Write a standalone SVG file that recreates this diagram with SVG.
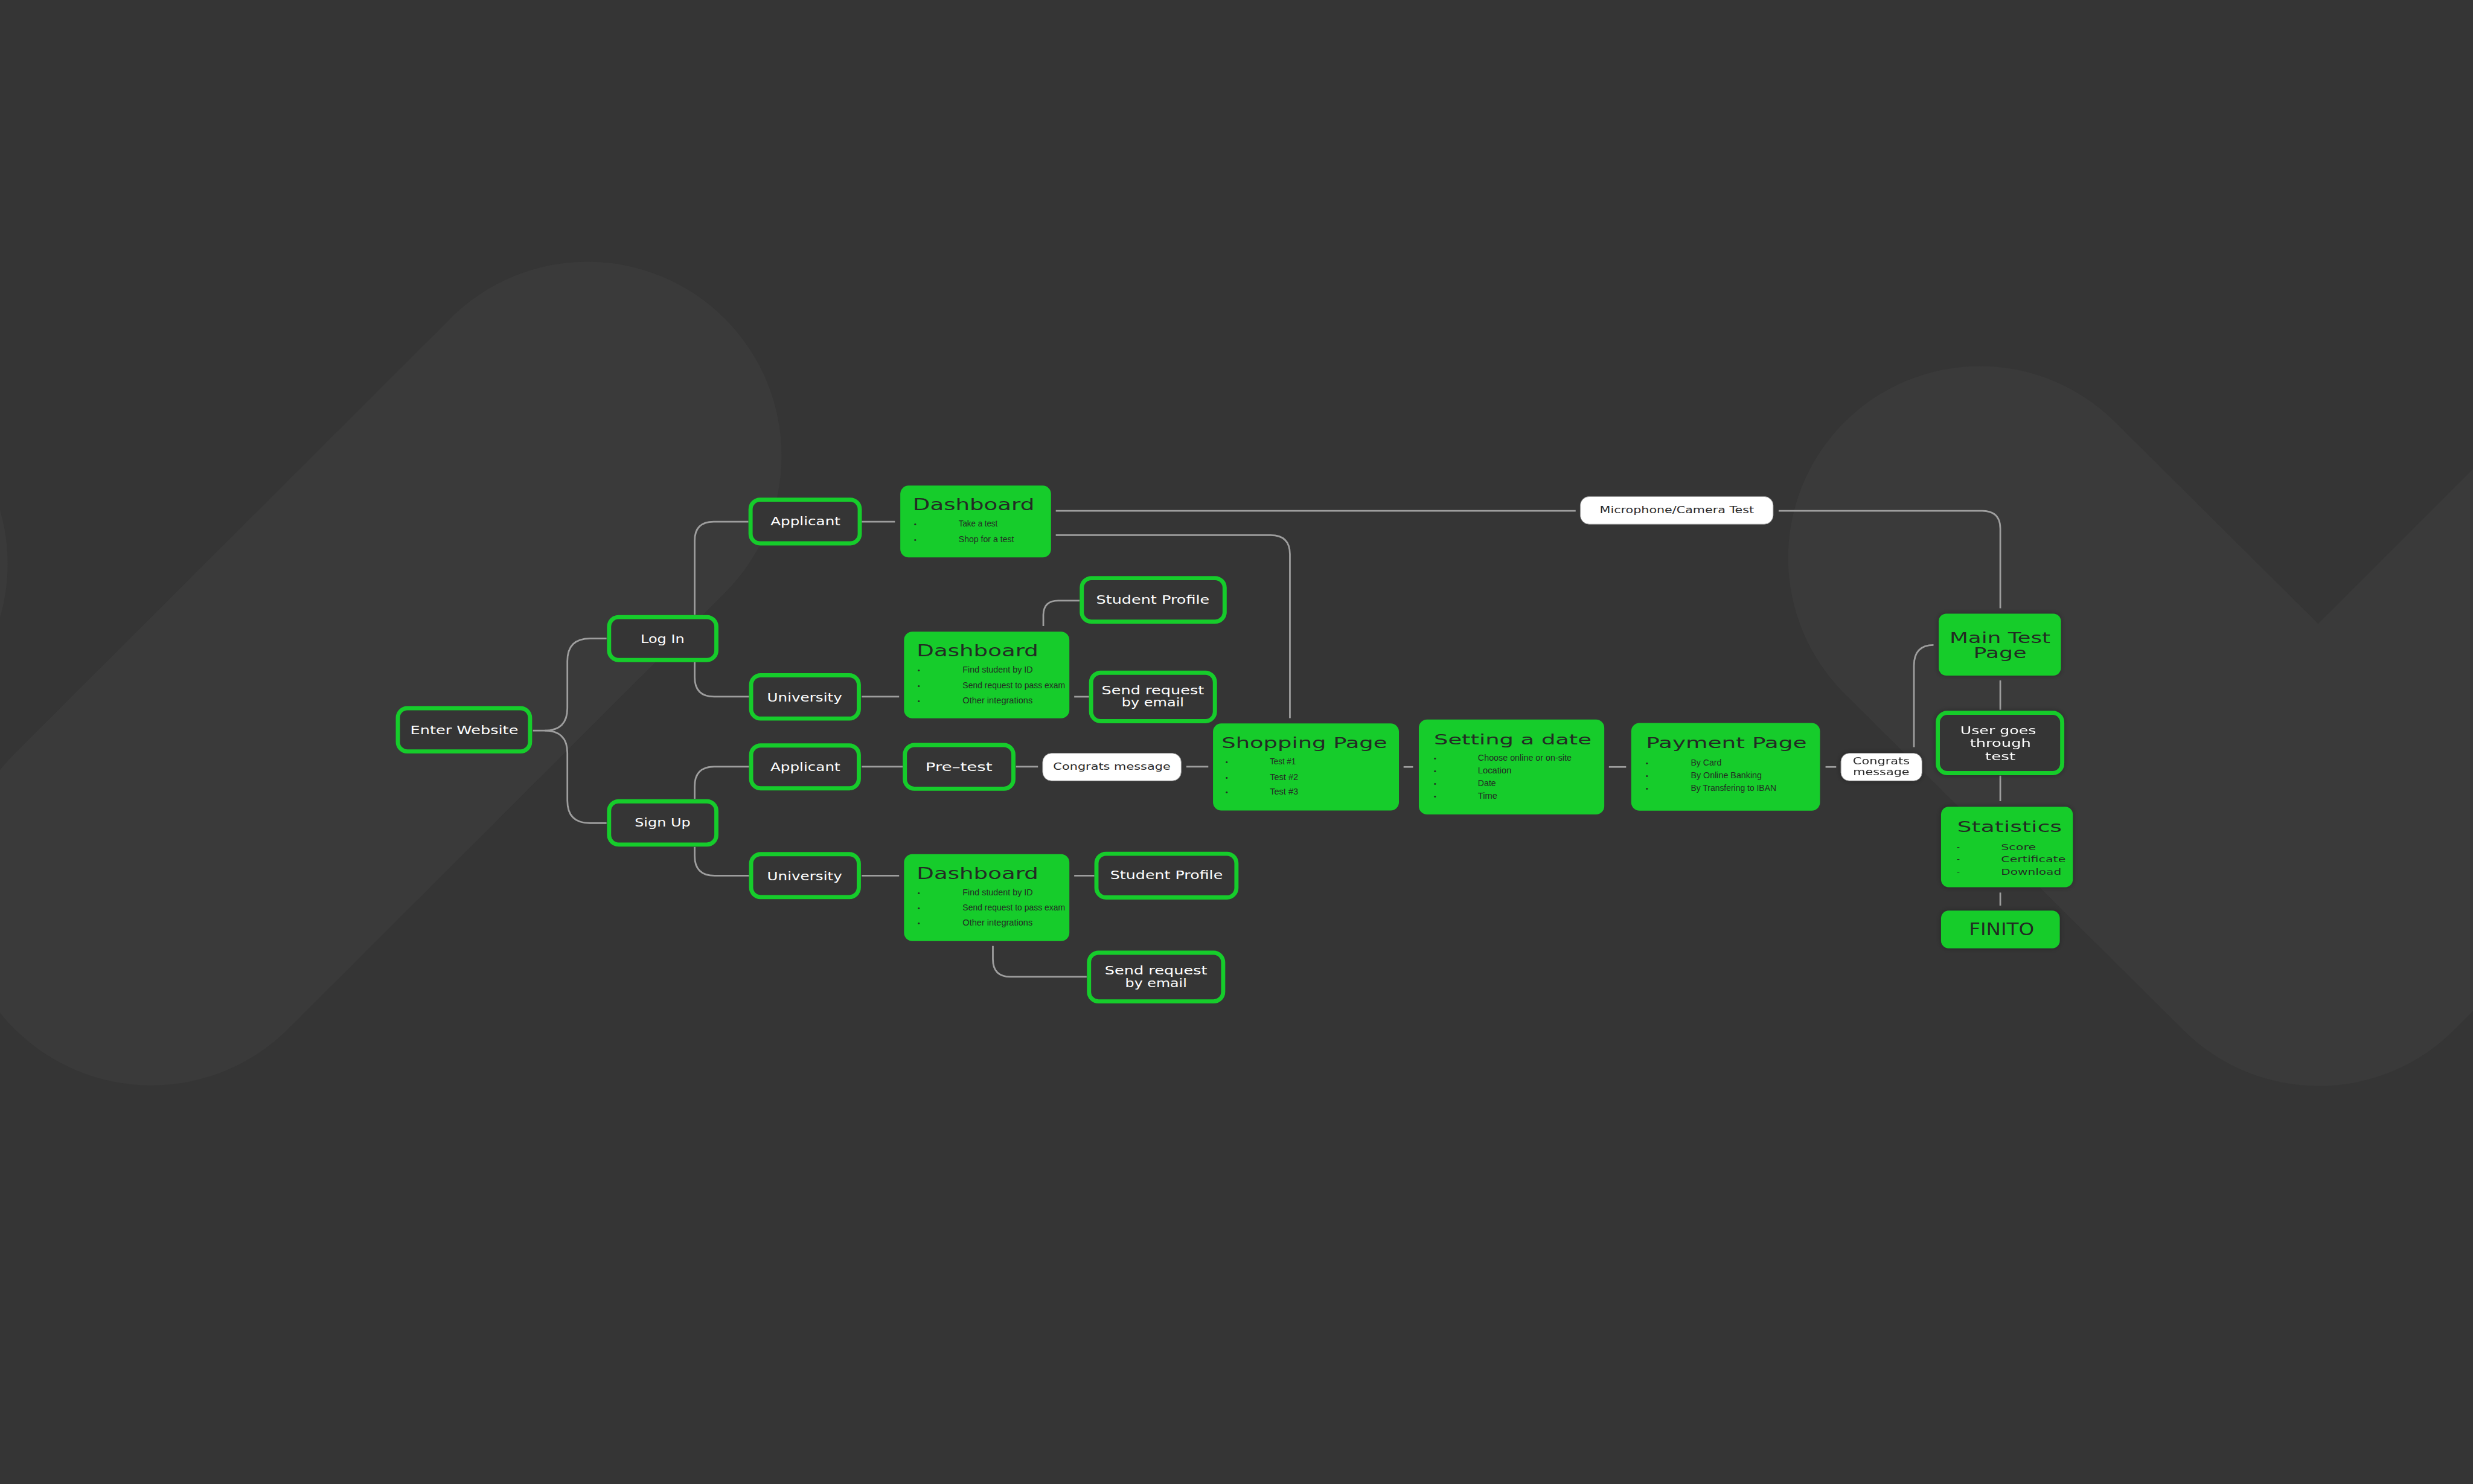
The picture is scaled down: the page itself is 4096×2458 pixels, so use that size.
<svg xmlns="http://www.w3.org/2000/svg" width="4096" height="2458" viewBox="0 0 4096 2458">
<defs>
<style>
.bgs{fill:none;stroke:#3a3a3a;stroke-linecap:round;stroke-linejoin:round}
.dn rect{fill:#353535;stroke:#16cc2b;stroke-width:7}
.gn rect{fill:#16cc2b}
.pl rect{fill:#ffffff;stroke:#9a9a9a;stroke-width:1}
.conn path{fill:none;stroke:#9e9e9e;stroke-width:2.8}
.lbl{font-family:"DejaVu Sans","Liberation Sans",sans-serif;fill:#ffffff;text-anchor:middle}
.ttl{font-family:"DejaVu Sans","Liberation Sans",sans-serif;fill:#232b24}
.ttc{font-family:"DejaVu Sans","Liberation Sans",sans-serif;fill:#232b24;text-anchor:middle}
.plt{font-family:"DejaVu Sans","Liberation Sans",sans-serif;fill:#2a2a2a;text-anchor:middle;font-size:16px}
.bul{font-family:"Liberation Sans",Arial,sans-serif;fill:#232b24;font-size:14px}
.dot{font-family:"Liberation Sans",Arial,sans-serif;fill:#232b24;font-size:12px}
.sb{font-family:"DejaVu Sans","Liberation Sans",sans-serif;fill:#232b24;font-size:15px}
</style>
<filter id="sh" x="-20%" y="-20%" width="140%" height="140%">
<feDropShadow dx="0" dy="0" stdDeviation="5" flood-color="#000000" flood-opacity="0.3"/>
</filter>
</defs>
<rect x="0" y="0" width="4096" height="2458" fill="#353535"/>
<g transform="scale(0.98296)">
<g id="background">
<line class="bgs" x1="990" y1="768" x2="255" y2="1502" stroke-width="654"/>
<circle cx="-310" cy="950" r="323" fill="#3a3a3a"/>
<polyline class="bgs" points="3336,940 3907,1507 4700,714" stroke-width="646"/>
</g>

<g id="connectors" class="conn">
<path d="M898,1231 H918 Q956,1231 956,1193 V1114 Q956,1076 994,1076 H1022"/>
<path d="M918,1231 Q956,1231 956,1269 V1349 Q956,1387 994,1387 H1022"/>
<path d="M1170.5,1036 V911 Q1170.5,879 1202.5,879 H1261"/>
<path d="M1170.5,1116 V1141 Q1170.5,1174 1203.5,1174 H1262"/>
<path d="M1170.5,1346 V1325 Q1170.5,1292 1203.5,1292 H1262"/>
<path d="M1170.5,1427 V1442 Q1170.5,1475.5 1204,1475.5 H1262"/>
<path d="M1452,879 H1508"/>
<path d="M1452,1174 H1515"/>
<path d="M1452,1292 H1521"/>
<path d="M1712,1292 H1749"/>
<path d="M1999,1292 H2036"/>
<path d="M1452,1475.5 H1515"/>
<path d="M1779,860.7 H2655"/>
<path d="M2997,860.7 H3340 Q3370.5,860.7 3370.5,891 V1025"/>
<path d="M1779,901.7 H2141 Q2173.5,901.7 2173.5,934 V1210"/>
<path d="M1758,1055 V1037 Q1758,1012 1783,1012 H1819"/>
<path d="M1810,1174 H1835"/>
<path d="M1810,1475.5 H1844"/>
<path d="M1673,1594 V1616 Q1673,1646 1703,1646 H1831"/>
<path d="M2365,1292.3 H2381"/>
<path d="M2711,1292.3 H2740"/>
<path d="M3076,1292.3 H3094"/>
<path d="M3225,1259 V1122 Q3225,1087 3258,1087"/>
<path d="M3370.5,1146.5 V1196"/>
<path d="M3370.5,1307 V1350"/>
<path d="M3370.5,1504 V1526"/>
</g>

<g id="enter-website" class="dn">
<rect x="670.4" y="1193.4" width="222.7" height="72.8" rx="16"/>
<text class="lbl" x="782.3" y="1236.8" font-size="19" textLength="182" lengthAdjust="spacingAndGlyphs">Enter Website</text>
</g>
<g id="log-in" class="dn">
<rect x="1026.3" y="1039.9" width="180.8" height="72.3" rx="16"/>
<text class="lbl" x="1116.4" y="1083.7" font-size="19" textLength="74" lengthAdjust="spacingAndGlyphs">Log In</text>
</g>
<g id="sign-up" class="dn">
<rect x="1026.3" y="1350.3" width="180.8" height="72.8" rx="16"/>
<text class="lbl" x="1116.4" y="1393.2" font-size="19" textLength="94" lengthAdjust="spacingAndGlyphs">Sign Up</text>
</g>
<g id="applicant-login" class="dn">
<rect x="1264.7" y="842" width="184" height="73.6" rx="16"/>
<text class="lbl" x="1357.2" y="885" font-size="19" textLength="117.7" lengthAdjust="spacingAndGlyphs">Applicant</text>
</g>
<g id="university-login" class="dn">
<rect x="1265.6" y="1137.9" width="181.5" height="72.9" rx="16"/>
<text class="lbl" x="1355.8" y="1181.8" font-size="19" textLength="126.3" lengthAdjust="spacingAndGlyphs">University</text>
</g>
<g id="applicant-signup" class="dn">
<rect x="1265.6" y="1256.1" width="181.5" height="72.3" rx="16"/>
<text class="lbl" x="1357" y="1298.9" font-size="19" textLength="117.7" lengthAdjust="spacingAndGlyphs">Applicant</text>
</g>
<g id="university-signup" class="dn">
<rect x="1265.6" y="1439.3" width="181.5" height="72.3" rx="16"/>
<text class="lbl" x="1355.8" y="1483.1" font-size="19" textLength="126.3" lengthAdjust="spacingAndGlyphs">University</text>
</g>

<g id="dashboard-applicant" class="gn">
<rect x="1517" y="818.3" width="254" height="121" rx="14"/>
<text class="ttl" x="1538" y="860" font-size="27" textLength="205" lengthAdjust="spacingAndGlyphs">Dashboard</text>
<text class="dot" x="1540" y="887.3">•</text>
<text class="bul" x="1615.3" y="887.3" textLength="65.6" lengthAdjust="spacingAndGlyphs">Take a test</text>
<text class="dot" x="1540" y="913.3">•</text>
<text class="bul" x="1615.3" y="913.3" textLength="93.3" lengthAdjust="spacingAndGlyphs">Shop for a test</text>
</g>

<g id="dashboard-university-login" class="gn">
<rect x="1523.3" y="1064.3" width="278.6" height="146" rx="14"/>
<text class="ttl" x="1544.7" y="1105.7" font-size="27" textLength="205" lengthAdjust="spacingAndGlyphs">Dashboard</text>
<text class="dot" x="1546" y="1133.3">•</text>
<text class="bul" x="1622" y="1133.3" textLength="118.3" lengthAdjust="spacingAndGlyphs">Find student by ID</text>
<text class="dot" x="1546" y="1159.3">•</text>
<text class="bul" x="1622" y="1159.3" textLength="172.7" lengthAdjust="spacingAndGlyphs">Send request to pass exam</text>
<text class="dot" x="1546" y="1185">•</text>
<text class="bul" x="1622" y="1185" textLength="117.9" lengthAdjust="spacingAndGlyphs">Other integrations</text>
</g>

<g id="student-profile-login" class="dn">
<rect x="1822.8" y="974.2" width="240.7" height="73.3" rx="16"/>
<text class="lbl" x="1942.5" y="1017.3" font-size="19" textLength="191" lengthAdjust="spacingAndGlyphs">Student Profile</text>
</g>
<g id="send-request-login" class="dn">
<rect x="1838.5" y="1133.5" width="208.6" height="81.7" rx="16"/>
<text class="lbl" x="1942.5" y="1170" font-size="19" textLength="172.8" lengthAdjust="spacingAndGlyphs">Send request</text>
<text class="lbl" x="1942.5" y="1190.7" font-size="19" textLength="105" lengthAdjust="spacingAndGlyphs">by email</text>
</g>

<g id="pre-test" class="dn">
<rect x="1524.7" y="1255.4" width="182.9" height="73.6" rx="16"/>
<text class="lbl" x="1615.7" y="1298.7" font-size="19" textLength="112.5" lengthAdjust="spacingAndGlyphs">Pre–test</text>
</g>
<g id="congrats-message-1" class="pl">
<rect x="1756.8" y="1269.3" width="233.5" height="46.4" rx="15"/>
<text class="plt" x="1873.5" y="1297.3" textLength="197.8" lengthAdjust="spacingAndGlyphs">Congrats message</text>
</g>

<g id="dashboard-university-signup" class="gn">
<rect x="1523.3" y="1439.3" width="278.6" height="146.4" rx="14"/>
<text class="ttl" x="1544.7" y="1481.7" font-size="27" textLength="205" lengthAdjust="spacingAndGlyphs">Dashboard</text>
<text class="dot" x="1546" y="1508.3">•</text>
<text class="bul" x="1622" y="1508.3" textLength="118.3" lengthAdjust="spacingAndGlyphs">Find student by ID</text>
<text class="dot" x="1546" y="1534.3">•</text>
<text class="bul" x="1622" y="1534.3" textLength="172.7" lengthAdjust="spacingAndGlyphs">Send request to pass exam</text>
<text class="dot" x="1546" y="1560">•</text>
<text class="bul" x="1622" y="1560" textLength="117.9" lengthAdjust="spacingAndGlyphs">Other integrations</text>
</g>
<g id="student-profile-signup" class="dn">
<rect x="1847.5" y="1438.7" width="235.9" height="73.6" rx="16"/>
<text class="lbl" x="1965.5" y="1481.7" font-size="19" textLength="189.7" lengthAdjust="spacingAndGlyphs">Student Profile</text>
</g>
<g id="send-request-signup" class="dn">
<rect x="1835" y="1605.4" width="226" height="82" rx="16"/>
<text class="lbl" x="1947.9" y="1642.3" font-size="19" textLength="172.8" lengthAdjust="spacingAndGlyphs">Send request</text>
<text class="lbl" x="1947.9" y="1663.3" font-size="19" textLength="104" lengthAdjust="spacingAndGlyphs">by email</text>
</g>

<g id="shopping-page" class="gn">
<rect x="2043.9" y="1219" width="313.3" height="146.7" rx="14"/>
<text class="ttl" x="2058.3" y="1260" font-size="25" textLength="279" lengthAdjust="spacingAndGlyphs">Shopping Page</text>
<text class="dot" x="2065" y="1288.3">•</text>
<text class="bul" x="2139.6" y="1288.3" font-size="13" textLength="43.8" lengthAdjust="spacingAndGlyphs">Test #1</text>
<text class="dot" x="2065" y="1314">•</text>
<text class="bul" x="2139.6" y="1314" font-size="13" textLength="47.8" lengthAdjust="spacingAndGlyphs">Test #2</text>
<text class="dot" x="2065" y="1339.3">•</text>
<text class="bul" x="2139.6" y="1339.3" font-size="13" textLength="47.8" lengthAdjust="spacingAndGlyphs">Test #3</text>
</g>

<g id="setting-a-date" class="gn">
<rect x="2390.7" y="1212.3" width="312.5" height="160" rx="14"/>
<text class="ttl" x="2416.2" y="1254" font-size="24" textLength="265.5" lengthAdjust="spacingAndGlyphs">Setting a date</text>
<text class="dot" x="2416" y="1281.7">•</text>
<text class="bul" x="2490.3" y="1281.7" font-size="13" textLength="157.8" lengthAdjust="spacingAndGlyphs">Choose online or on-site</text>
<text class="dot" x="2416" y="1302.7">•</text>
<text class="bul" x="2490.3" y="1302.7" font-size="13" textLength="56.6" lengthAdjust="spacingAndGlyphs">Location</text>
<text class="dot" x="2416" y="1324.3">•</text>
<text class="bul" x="2490.3" y="1324.3" font-size="13" textLength="30.3" lengthAdjust="spacingAndGlyphs">Date</text>
<text class="dot" x="2416" y="1345.7">•</text>
<text class="bul" x="2490.3" y="1345.7" font-size="13" textLength="32.7" lengthAdjust="spacingAndGlyphs">Time</text>
</g>

<g id="payment-page" class="gn">
<rect x="2748.6" y="1218.3" width="318.1" height="147.7" rx="14"/>
<text class="ttl" x="2773.4" y="1260" font-size="25" textLength="271" lengthAdjust="spacingAndGlyphs">Payment Page</text>
<text class="dot" x="2773" y="1290">•</text>
<text class="bul" x="2849" y="1290" font-size="13" textLength="51.8" lengthAdjust="spacingAndGlyphs">By Card</text>
<text class="dot" x="2773" y="1311">•</text>
<text class="bul" x="2849" y="1311" font-size="13" textLength="119.6" lengthAdjust="spacingAndGlyphs">By Online Banking</text>
<text class="dot" x="2773" y="1332.7">•</text>
<text class="bul" x="2849" y="1332.7" font-size="13" textLength="144" lengthAdjust="spacingAndGlyphs">By Transfering to IBAN</text>
</g>

<g id="congrats-message-2" class="pl" filter="url(#sh)">
<rect x="3102" y="1269.3" width="136.5" height="46.4" rx="14"/>
<text class="plt" x="3170" y="1288" textLength="96" lengthAdjust="spacingAndGlyphs">Congrats</text>
<text class="plt" x="3170" y="1306" textLength="95" lengthAdjust="spacingAndGlyphs">message</text>
</g>

<g id="microphone-camera-test" class="pl">
<rect x="2662.8" y="836.7" width="325" height="46.6" rx="15"/>
<text class="plt" x="2825.5" y="865" textLength="260" lengthAdjust="spacingAndGlyphs">Microphone/Camera Test</text>
</g>

<g id="main-test-page" class="gn" filter="url(#sh)">
<rect x="3266.7" y="1034" width="206" height="104.3" rx="13"/>
<text class="ttc" x="3370" y="1083.3" font-size="25" textLength="170" lengthAdjust="spacingAndGlyphs">Main Test</text>
<text class="ttc" x="3370" y="1109.3" font-size="25" textLength="89.7" lengthAdjust="spacingAndGlyphs">Page</text>
</g>

<g id="user-goes-through-test" class="dn" filter="url(#sh)">
<rect x="3265.2" y="1201.1" width="209.6" height="101.6" rx="16"/>
<text class="lbl" x="3367" y="1237.3" font-size="18" textLength="128" lengthAdjust="spacingAndGlyphs">User goes</text>
<text class="lbl" x="3370.7" y="1258.8" font-size="18" textLength="103" lengthAdjust="spacingAndGlyphs">through</text>
<text class="lbl" x="3370.5" y="1280.7" font-size="18" textLength="51" lengthAdjust="spacingAndGlyphs">test</text>
</g>

<g id="statistics" class="gn" filter="url(#sh)">
<rect x="3270.7" y="1359.3" width="222" height="135.7" rx="13"/>
<text class="ttl" x="3297.7" y="1401.6" font-size="26" textLength="176.7" lengthAdjust="spacingAndGlyphs">Statistics</text>
<text class="sb" x="3297" y="1432.2">-</text>
<text class="sb" x="3371.7" y="1432.2" textLength="59" lengthAdjust="spacingAndGlyphs">Score</text>
<text class="sb" x="3297" y="1452.7">-</text>
<text class="sb" x="3371.7" y="1452.7" textLength="109" lengthAdjust="spacingAndGlyphs">Certificate</text>
<text class="sb" x="3297" y="1474.6">-</text>
<text class="sb" x="3371.7" y="1474.6" textLength="101.7" lengthAdjust="spacingAndGlyphs">Download</text>
</g>

<g id="finito" class="gn" filter="url(#sh)">
<rect x="3270.7" y="1534.3" width="200" height="63.7" rx="13"/>
<text class="ttc" x="3372.7" y="1576" font-size="29" textLength="110" lengthAdjust="spacingAndGlyphs">FINITO</text>
</g>
</g>
</svg>
